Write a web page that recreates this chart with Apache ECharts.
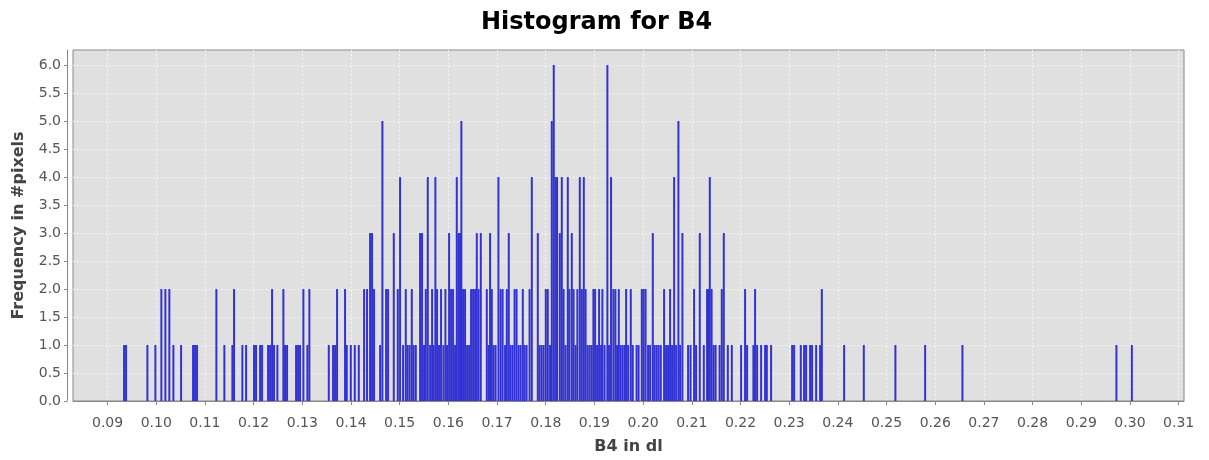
<!DOCTYPE html>
<html><head><meta charset="utf-8">
<script src="https://cdn.jsdelivr.net/npm/echarts@6/dist/echarts.min.js"></script>
<style>html,body{margin:0;padding:0;background:#fff}#c{width:1209px;height:460px}</style>
</head><body><div id="c"></div>
<script>
const binCenters = [0.09339,0.09380,0.09818,0.09982,0.10105,0.10187,0.10269,0.10352,0.10510,0.10756,0.10797,0.10838,0.11235,0.11399,0.11564,0.11598,0.11769,0.11845,0.12009,0.12050,0.12133,0.12174,0.12297,0.12338,0.12379,0.12420,0.12488,0.12611,0.12646,0.12687,0.12872,0.12913,0.12954,0.13022,0.13104,0.13145,0.13544,0.13632,0.13673,0.13714,0.13878,0.13913,0.13996,0.14078,0.14160,0.14269,0.14330,0.14392,0.14433,0.14474,0.14598,0.14645,0.14721,0.14762,0.14879,0.14961,0.15008,0.15070,0.15125,0.15162,0.15204,0.15249,0.15286,0.15331,0.15419,0.15460,0.15501,0.15536,0.15577,0.15625,0.15666,0.15696,0.15733,0.15768,0.15809,0.15850,0.15898,0.15939,0.15974,0.16015,0.16056,0.16097,0.16138,0.16173,0.16210,0.16241,0.16267,0.16302,0.16343,0.16385,0.16426,0.16467,0.16508,0.16549,0.16584,0.16621,0.16666,0.16789,0.16826,0.16857,0.16892,0.16929,0.16970,0.17028,0.17073,0.17114,0.17165,0.17200,0.17241,0.17278,0.17319,0.17360,0.17401,0.17442,0.17484,0.17529,0.17566,0.17607,0.17668,0.17714,0.17837,0.17874,0.17915,0.17956,0.18001,0.18042,0.18089,0.18124,0.18165,0.18202,0.18233,0.18289,0.18330,0.18367,0.18408,0.18453,0.18486,0.18535,0.18572,0.18613,0.18650,0.18700,0.18741,0.18782,0.18819,0.18860,0.18901,0.18942,0.18979,0.19014,0.19055,0.19096,0.19137,0.19164,0.19209,0.19266,0.19301,0.19342,0.19390,0.19431,0.19466,0.19501,0.19538,0.19579,0.19620,0.19651,0.19692,0.19747,0.19788,0.19866,0.19907,0.19973,0.20010,0.20051,0.20102,0.20144,0.20199,0.20236,0.20277,0.20318,0.20363,0.20431,0.20472,0.20513,0.20554,0.20595,0.20637,0.20678,0.20725,0.20760,0.20807,0.20924,0.20975,0.21047,0.21088,0.21164,0.21247,0.21314,0.21345,0.21370,0.21407,0.21448,0.21489,0.21571,0.21616,0.21657,0.21740,0.21822,0.22013,0.22095,0.22136,0.22266,0.22300,0.22342,0.22424,0.22506,0.22541,0.22629,0.23061,0.23102,0.23239,0.23307,0.23348,0.23430,0.23471,0.23554,0.23636,0.23671,0.24129,0.24533,0.25182,0.25793,0.26559,0.29722,0.30039];
const counts = [1,1,1,1,2,2,2,1,1,1,1,1,2,1,1,2,1,1,1,1,1,1,1,1,2,1,1,2,1,1,1,1,1,2,1,2,1,1,1,2,2,1,1,1,1,2,2,3,3,2,1,5,2,2,3,2,4,1,2,1,1,2,1,1,3,3,1,2,4,1,2,1,4,2,1,2,1,2,1,3,2,2,1,4,3,3,5,2,2,1,1,2,2,2,3,2,3,2,1,3,2,1,1,4,2,2,1,2,3,1,1,2,2,1,1,2,1,1,2,4,3,1,1,1,2,2,1,5,6,4,4,3,4,2,1,4,2,3,2,1,2,4,2,4,2,1,1,1,2,2,1,2,1,2,1,6,1,4,2,2,1,2,1,1,1,2,1,2,1,1,1,2,2,2,1,1,3,1,1,1,1,2,1,1,2,1,4,1,5,1,3,1,1,2,1,3,1,2,2,4,2,1,1,1,2,3,1,1,1,2,1,1,2,1,1,1,1,1,1,1,1,1,1,1,1,1,1,2,1,1,1,1,1,1,1,1];
const xTicks = [0.09,0.10,0.11,0.12,0.13,0.14,0.15,0.16,0.17,0.18,0.19,0.20,0.21,0.22,0.23,0.24,0.25,0.26,0.27,0.28,0.29,0.30,0.31];
const yTicks = [0,0.5,1,1.5,2,2.5,3,3.5,4,4.5,5,5.5,6];
const titleText = 'Histogram for B4';
const xName = 'B4 in dl';
const yName = 'Frequency in #pixels';

const chart = echarts.init(document.getElementById('c'), null, {renderer: 'canvas'});
const seriesData = binCenters.map((x, i) => [x, counts[i]]);
const font = 'DejaVu Sans';
chart.setOption({
  animation: false,
  backgroundColor: '#ffffff',
  title: {text: titleText, left: 476, top: 6, textStyle: {fontFamily: font, fontWeight: 'bold', fontSize: 24, color: '#000'}},
  grid: {left: 73, right: 25, top: 50, bottom: 59, outerBoundsMode: 'none', containLabel: false, show: true, backgroundColor: '#e0e0e0', borderColor: '#888', borderWidth: 1},
  xAxis: {
    type: 'value', min: 0.0829, max: 0.3111, offset: 6,
    name: xName, nameLocation: 'middle', nameGap: 32,
    nameTextStyle: {fontFamily: font, fontSize: 16, fontWeight: 'bold', color: '#444'},
    axisLine: {show: true, lineStyle: {color: '#888'}},
    axisTick: {show: true, length: 4, customValues: xTicks, lineStyle: {color: '#888'}},
    axisLabel: {customValues: xTicks, fontFamily: font, fontSize: 14, color: '#555', margin: 9, formatter: v => v.toFixed(2)},
    splitLine: {show: true, customValues: xTicks, lineStyle: {color: '#f4f4f4', type: [2, 2], width: 1}}
  },
  yAxis: {
    type: 'value', min: 0, max: 6.27, offset: 6,
    name: yName, nameLocation: 'middle', nameGap: 40, nameRotate: 90,
    nameTextStyle: {fontFamily: font, fontSize: 16, fontWeight: 'bold', color: '#444'},
    axisLine: {show: true, lineStyle: {color: '#888'}},
    axisTick: {show: true, length: 3, customValues: yTicks, lineStyle: {color: '#888'}},
    axisLabel: {customValues: yTicks, fontFamily: font, fontSize: 14, color: '#555', margin: 6, formatter: v => v.toFixed(1)},
    splitLine: {show: true, customValues: yTicks, lineStyle: {color: '#f4f4f4', type: [2, 2], width: 1}}
  },
  series: [{
    type: 'bar', data: seriesData, barWidth: 2,
    itemStyle: {color: '#3232d2'}, large: false
  }]
});
</script></body></html>
